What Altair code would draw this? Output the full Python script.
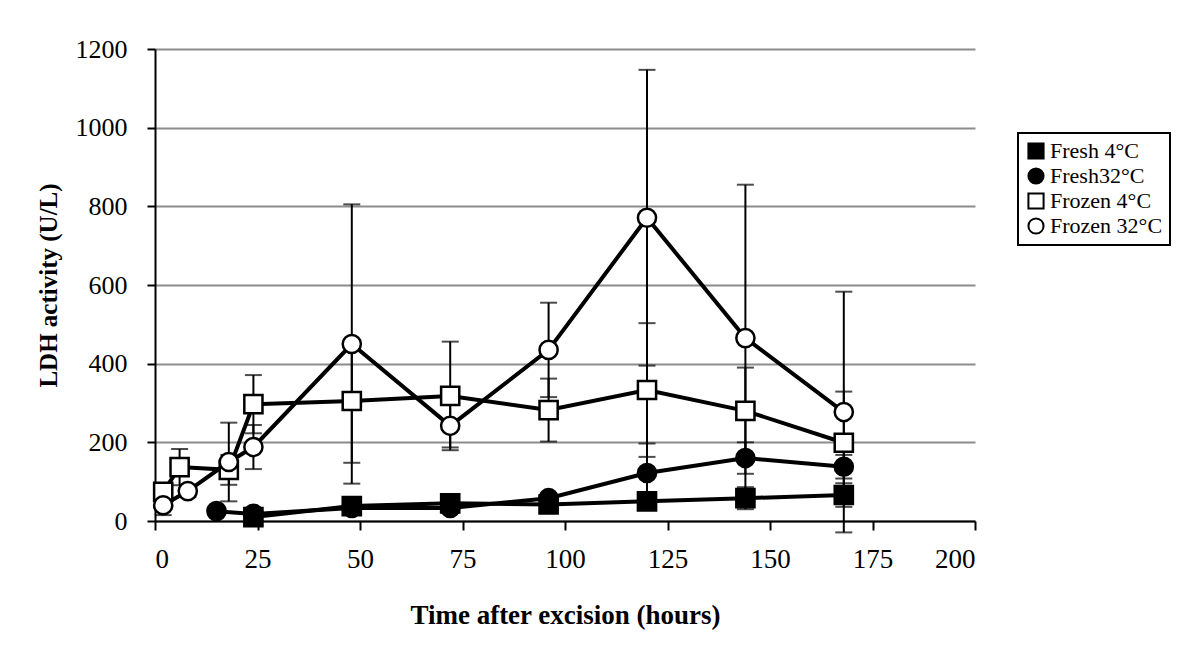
import altair as alt
import pandas as pd

series_names = ["Fresh 4°C", "Fresh32°C", "Frozen 4°C", "Frozen 32°C"]

fresh4_h = [24, 48, 72, 96, 120, 144, 168]
fresh4_v = [10, 38, 45, 42, 50, 58, 66]
fresh4_e = [8, 15, 15, 10, 10, 28, 30]

fresh32_h = [15, 24, 48, 72, 96, 120, 144, 168]
fresh32_v = [25, 18, 33, 33, 58, 122, 160, 138]
fresh32_e = [8, 8, 12, 12, 12, 75, 40, 30]

frozen4_h = [2, 6, 18, 24, 48, 72, 96, 120, 144, 168]
frozen4_v = [74, 137, 130, 297, 305, 318, 282, 333, 280, 199]
frozen4_e = [22, 46, 38, 74, 157, 138, 80, 170, 110, 130]

frozen32_h = [2, 8, 18, 24, 48, 72, 96, 120, 144, 168]
frozen32_v = [40, 76, 150, 188, 450, 242, 435, 771, 465, 277]
frozen32_e = [25, 15, 100, 56, 355, 55, 120, 376, 390, 306]

x_ticks = [0, 25, 50, 75, 100, 125, 150, 175, 200]
y_ticks = [0, 200, 400, 600, 800, 1000, 1200]

rows = []
for name, hs, vs, es in [
    (series_names[0], fresh4_h, fresh4_v, fresh4_e),
    (series_names[1], fresh32_h, fresh32_v, fresh32_e),
    (series_names[2], frozen4_h, frozen4_v, frozen4_e),
    (series_names[3], frozen32_h, frozen32_v, frozen32_e),
]:
    for h, v, e in zip(hs, vs, es):
        rows.append({"series": name, "hours": h, "value": v,
                     "lo": v - e, "hi": v + e})
df = pd.DataFrame(rows)

FONT = "Liberation Serif"

xs = alt.Scale(domain=[0, 200], nice=False, zero=False)
ys = alt.Scale(domain=[0, 1200], nice=False, clamp=False)

x_axis = alt.Axis(values=x_ticks, title="Time after excision (hours)", grid=False,
                  format="d",
                  labelFontSize=27, labelPadding=16, tickSize=9,
                  titleFontSize=27, titleFontWeight="bold",
                  titleX=410, titleY=94, titleBaseline="middle")
y_axis = alt.Axis(values=y_ticks, title="LDH activity (U/L)", grid=True,
                  format="d",
                  labelFontSize=26, labelPadding=20, tickSize=8,
                  titleFontSize=25, titleFontWeight="bold",
                  titleX=-107, titleY=236, titleAngle=-90,
                  titleBaseline="middle", titleAlign="center")

base = alt.Chart(df)

err = base.mark_rule(color="black", strokeWidth=2).encode(
    x=alt.X("hours:Q", scale=xs, axis=x_axis),
    y=alt.Y("lo:Q", scale=ys, axis=y_axis),
    y2="hi:Q",
)
cap_lo = base.mark_tick(color="black", thickness=2, size=17, orient="horizontal").encode(
    x=alt.X("hours:Q", scale=xs), y=alt.Y("lo:Q", scale=ys))
cap_hi = base.mark_tick(color="black", thickness=2, size=17, orient="horizontal").encode(
    x=alt.X("hours:Q", scale=xs), y=alt.Y("hi:Q", scale=ys))

lines = base.mark_line(color="black", strokeWidth=4).encode(
    x=alt.X("hours:Q", scale=xs),
    y=alt.Y("value:Q", scale=ys),
    detail="series:N",
    order="hours:Q",
)

legend = alt.Legend(title=None, orient="none", legendX=863, legendY=84,
                    labelFont=FONT, labelFontSize=22, labelColor="black",
                    symbolSize=230, symbolStrokeWidth=2,
                    rowPadding=1, padding=7, strokeColor="black",
                    fillColor="white", labelOffset=3)

points = base.mark_point(filled=True, strokeWidth=2.5, size=330,
                         opacity=1).encode(
    x=alt.X("hours:Q", scale=xs),
    y=alt.Y("value:Q", scale=ys),
    shape=alt.Shape("series:N",
                    scale=alt.Scale(domain=series_names,
                                    range=["square", "circle", "square", "circle"]),
                    legend=legend),
    fill=alt.Fill("series:N",
                  scale=alt.Scale(domain=series_names,
                                  range=["black", "black", "white", "white"]),
                  legend=legend),
    stroke=alt.Stroke("series:N",
                      scale=alt.Scale(domain=series_names,
                                      range=["black", "black", "black", "black"]),
                      legend=legend),
)

chart = alt.layer(err, cap_lo, cap_hi, lines, points).properties(
    width=820, height=472,
    autosize=alt.AutoSizeParams(type="none"),
    padding={"left": 147, "top": 41, "right": 209, "bottom": 118},
    background="white",
).configure_view(stroke=None).configure_axis(
    labelFont=FONT, titleFont=FONT, labelColor="black", titleColor="black",
    domainColor="black", domainWidth=2, tickColor="black", tickWidth=2,
    gridColor="#8c8c8c", gridWidth=2,
).configure_legend(strokeWidth=2)

chart.save("out.html", embed_options={"renderer": "svg", "actions": False})
